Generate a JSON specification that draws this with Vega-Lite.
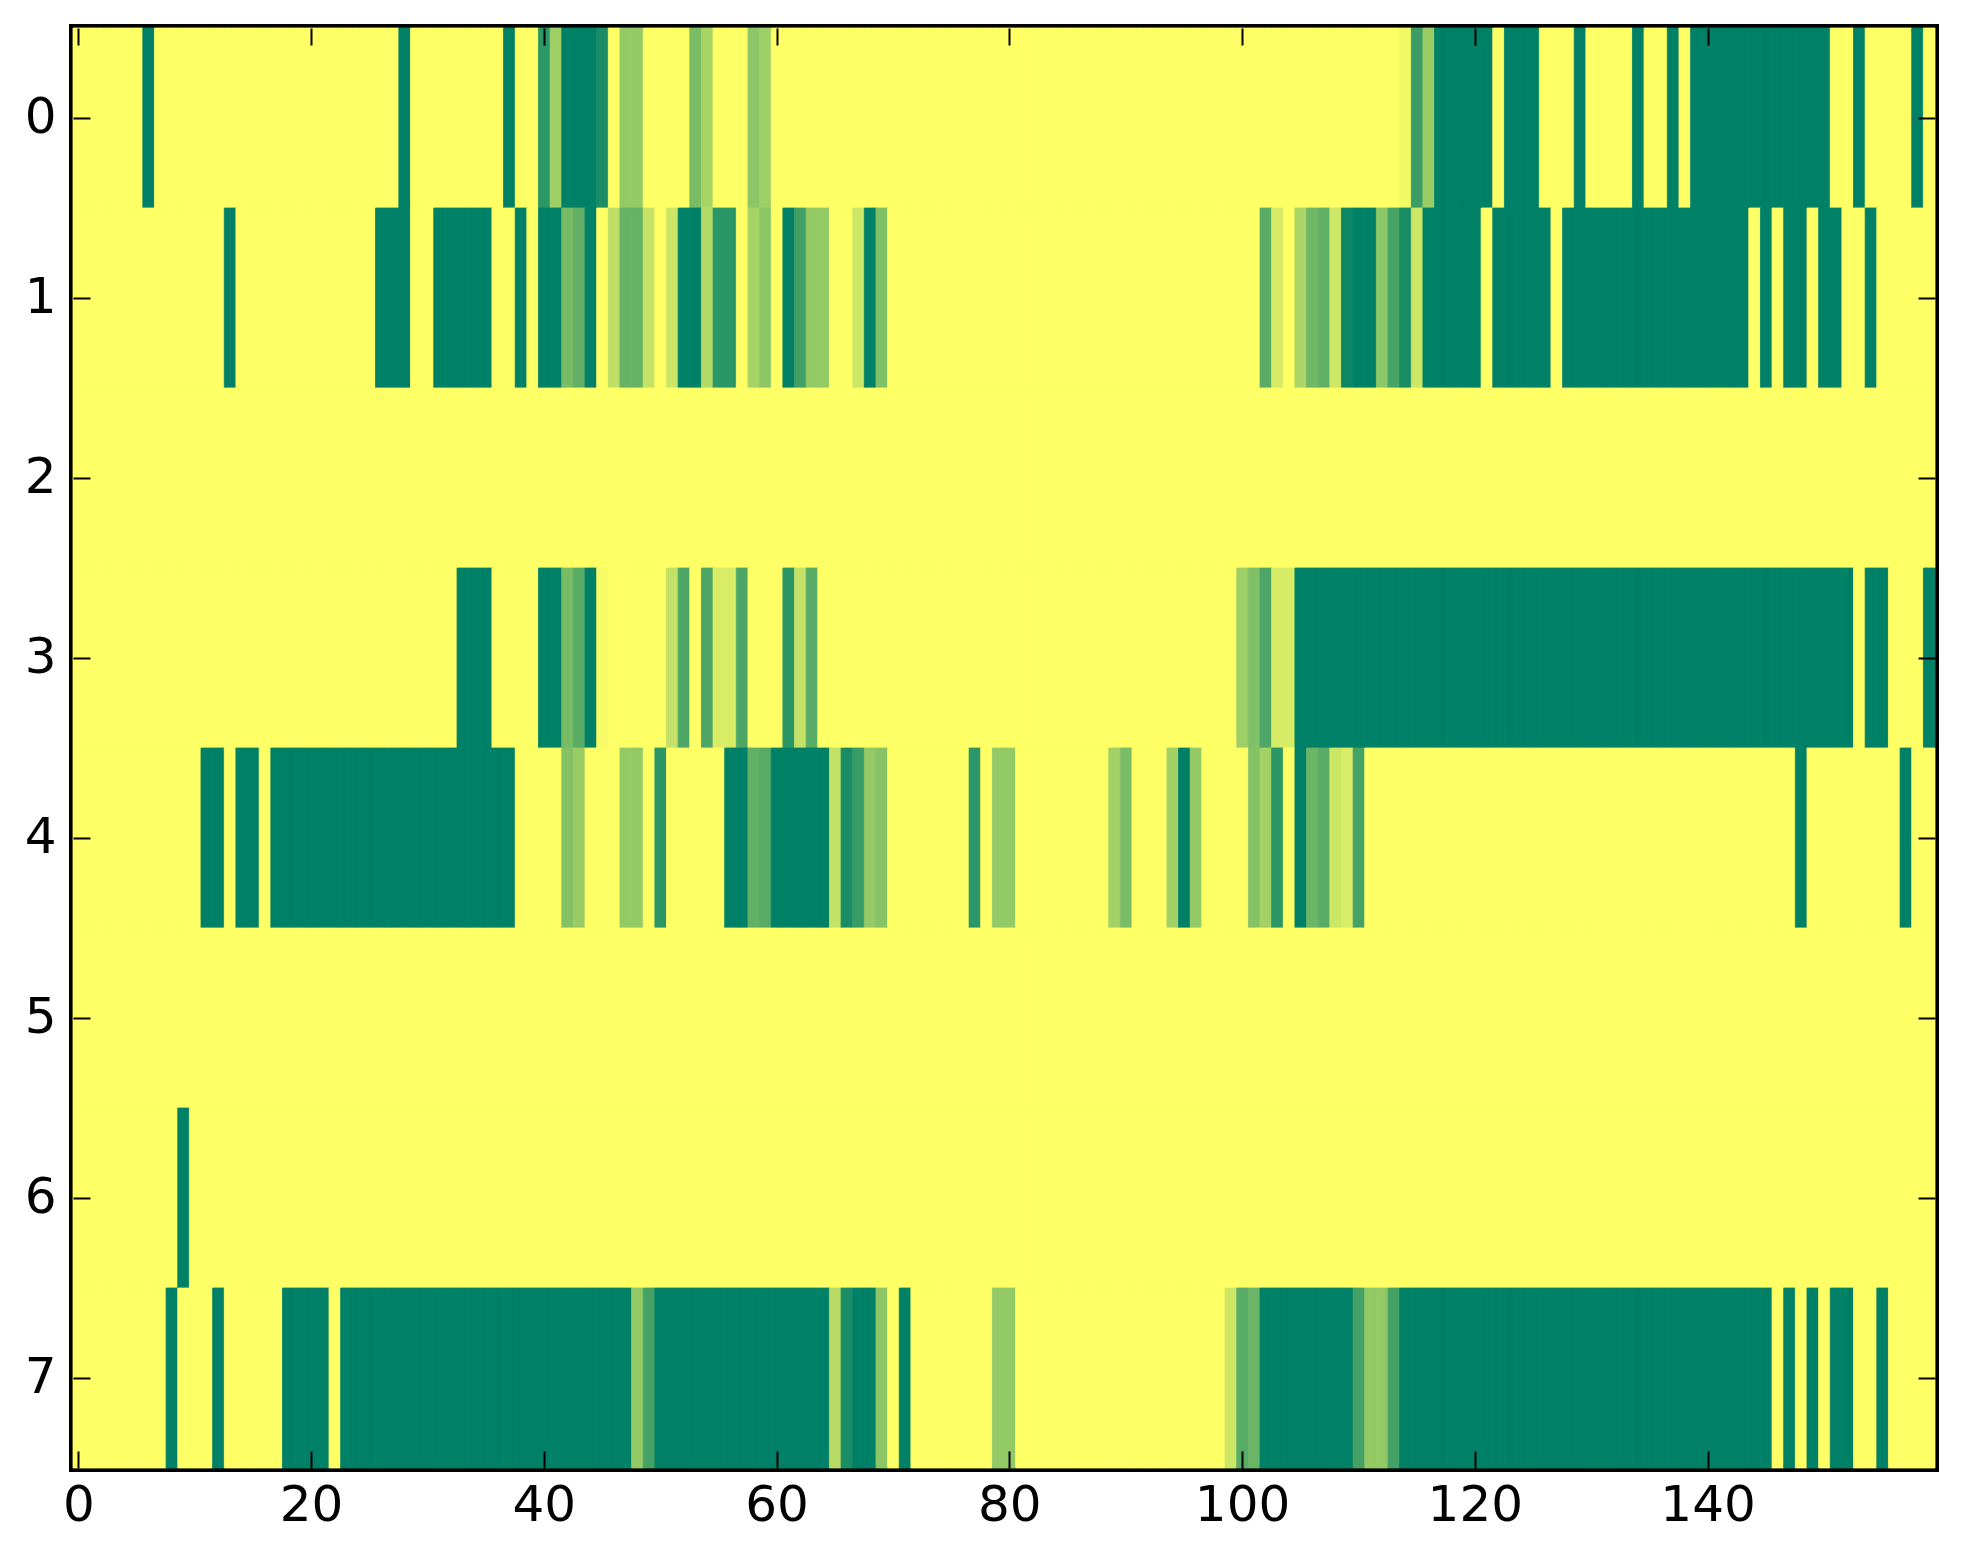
{
  "$schema": "https://vega.github.io/schema/vega-lite/v6.json",
  "width": 1862,
  "height": 1440,
  "autosize": "none",
  "padding": {"left": 73, "top": 28, "right": 28, "bottom": 96},
  "background": "white",
  "data": {
    "values": [
      {"r":0,"c":0,"v":0},{"r":0,"c":1,"v":0},{"r":0,"c":2,"v":0},{"r":0,"c":3,"v":0},{"r":0,"c":4,"v":0},{"r":0,"c":5,"v":0},{"r":0,"c":6,"v":1},{"r":0,"c":7,"v":0},{"r":0,"c":8,"v":0},{"r":0,"c":9,"v":0},
      {"r":0,"c":10,"v":0},{"r":0,"c":11,"v":0},{"r":0,"c":12,"v":0},{"r":0,"c":13,"v":0},{"r":0,"c":14,"v":0},{"r":0,"c":15,"v":0},{"r":0,"c":16,"v":0},{"r":0,"c":17,"v":0},{"r":0,"c":18,"v":0},{"r":0,"c":19,"v":0},
      {"r":0,"c":20,"v":0},{"r":0,"c":21,"v":0},{"r":0,"c":22,"v":0},{"r":0,"c":23,"v":0},{"r":0,"c":24,"v":0},{"r":0,"c":25,"v":0},{"r":0,"c":26,"v":0},{"r":0,"c":27,"v":0},{"r":0,"c":28,"v":1},{"r":0,"c":29,"v":0},
      {"r":0,"c":30,"v":0},{"r":0,"c":31,"v":0},{"r":0,"c":32,"v":0},{"r":0,"c":33,"v":0},{"r":0,"c":34,"v":0},{"r":0,"c":35,"v":0},{"r":0,"c":36,"v":0},{"r":0,"c":37,"v":1},{"r":0,"c":38,"v":0},{"r":0,"c":39,"v":0},
      {"r":0,"c":40,"v":0.83},{"r":0,"c":41,"v":0.38},{"r":0,"c":42,"v":1},{"r":0,"c":43,"v":1},{"r":0,"c":44,"v":1},{"r":0,"c":45,"v":0.9},{"r":0,"c":46,"v":0},{"r":0,"c":47,"v":0.42},{"r":0,"c":48,"v":0.42},{"r":0,"c":49,"v":0},
      {"r":0,"c":50,"v":0},{"r":0,"c":51,"v":0},{"r":0,"c":52,"v":0},{"r":0,"c":53,"v":0.53},{"r":0,"c":54,"v":0.34},{"r":0,"c":55,"v":0},{"r":0,"c":56,"v":0},{"r":0,"c":57,"v":0},{"r":0,"c":58,"v":0.45},{"r":0,"c":59,"v":0.38},
      {"r":0,"c":60,"v":0},{"r":0,"c":61,"v":0},{"r":0,"c":62,"v":0},{"r":0,"c":63,"v":0},{"r":0,"c":64,"v":0},{"r":0,"c":65,"v":0},{"r":0,"c":66,"v":0},{"r":0,"c":67,"v":0},{"r":0,"c":68,"v":0},{"r":0,"c":69,"v":0},
      {"r":0,"c":70,"v":0},{"r":0,"c":71,"v":0},{"r":0,"c":72,"v":0},{"r":0,"c":73,"v":0},{"r":0,"c":74,"v":0},{"r":0,"c":75,"v":0},{"r":0,"c":76,"v":0},{"r":0,"c":77,"v":0},{"r":0,"c":78,"v":0},{"r":0,"c":79,"v":0},
      {"r":0,"c":80,"v":0},{"r":0,"c":81,"v":0},{"r":0,"c":82,"v":0},{"r":0,"c":83,"v":0},{"r":0,"c":84,"v":0},{"r":0,"c":85,"v":0},{"r":0,"c":86,"v":0},{"r":0,"c":87,"v":0},{"r":0,"c":88,"v":0},{"r":0,"c":89,"v":0},
      {"r":0,"c":90,"v":0},{"r":0,"c":91,"v":0},{"r":0,"c":92,"v":0},{"r":0,"c":93,"v":0},{"r":0,"c":94,"v":0},{"r":0,"c":95,"v":0},{"r":0,"c":96,"v":0},{"r":0,"c":97,"v":0},{"r":0,"c":98,"v":0},{"r":0,"c":99,"v":0},
      {"r":0,"c":100,"v":0},{"r":0,"c":101,"v":0},{"r":0,"c":102,"v":0},{"r":0,"c":103,"v":0},{"r":0,"c":104,"v":0},{"r":0,"c":105,"v":0},{"r":0,"c":106,"v":0},{"r":0,"c":107,"v":0},{"r":0,"c":108,"v":0},{"r":0,"c":109,"v":0},
      {"r":0,"c":110,"v":0},{"r":0,"c":111,"v":0},{"r":0,"c":112,"v":0},{"r":0,"c":113,"v":0},{"r":0,"c":114,"v":0.05},{"r":0,"c":115,"v":0.77},{"r":0,"c":116,"v":0.4},{"r":0,"c":117,"v":1},{"r":0,"c":118,"v":1},{"r":0,"c":119,"v":1},
      {"r":0,"c":120,"v":1},{"r":0,"c":121,"v":1},{"r":0,"c":122,"v":0},{"r":0,"c":123,"v":1},{"r":0,"c":124,"v":1},{"r":0,"c":125,"v":1},{"r":0,"c":126,"v":0},{"r":0,"c":127,"v":0},{"r":0,"c":128,"v":0},{"r":0,"c":129,"v":1},
      {"r":0,"c":130,"v":0},{"r":0,"c":131,"v":0},{"r":0,"c":132,"v":0},{"r":0,"c":133,"v":0},{"r":0,"c":134,"v":1},{"r":0,"c":135,"v":0},{"r":0,"c":136,"v":0},{"r":0,"c":137,"v":1},{"r":0,"c":138,"v":0},{"r":0,"c":139,"v":1},
      {"r":0,"c":140,"v":1},{"r":0,"c":141,"v":1},{"r":0,"c":142,"v":1},{"r":0,"c":143,"v":1},{"r":0,"c":144,"v":1},{"r":0,"c":145,"v":1},{"r":0,"c":146,"v":1},{"r":0,"c":147,"v":1},{"r":0,"c":148,"v":1},{"r":0,"c":149,"v":1},
      {"r":0,"c":150,"v":1},{"r":0,"c":151,"v":0},{"r":0,"c":152,"v":0},{"r":0,"c":153,"v":1},{"r":0,"c":154,"v":0},{"r":0,"c":155,"v":0},{"r":0,"c":156,"v":0},{"r":0,"c":157,"v":0},{"r":0,"c":158,"v":1},{"r":0,"c":159,"v":0},

      {"r":1,"c":0,"v":0},{"r":1,"c":1,"v":0},{"r":1,"c":2,"v":0},{"r":1,"c":3,"v":0},{"r":1,"c":4,"v":0},{"r":1,"c":5,"v":0},{"r":1,"c":6,"v":0},{"r":1,"c":7,"v":0},{"r":1,"c":8,"v":0},{"r":1,"c":9,"v":0},
      {"r":1,"c":10,"v":0},{"r":1,"c":11,"v":0},{"r":1,"c":12,"v":0},{"r":1,"c":13,"v":1},{"r":1,"c":14,"v":0},{"r":1,"c":15,"v":0},{"r":1,"c":16,"v":0},{"r":1,"c":17,"v":0},{"r":1,"c":18,"v":0},{"r":1,"c":19,"v":0},
      {"r":1,"c":20,"v":0},{"r":1,"c":21,"v":0},{"r":1,"c":22,"v":0},{"r":1,"c":23,"v":0},{"r":1,"c":24,"v":0},{"r":1,"c":25,"v":0},{"r":1,"c":26,"v":1},{"r":1,"c":27,"v":1},{"r":1,"c":28,"v":1},{"r":1,"c":29,"v":0},
      {"r":1,"c":30,"v":0},{"r":1,"c":31,"v":1},{"r":1,"c":32,"v":1},{"r":1,"c":33,"v":1},{"r":1,"c":34,"v":1},{"r":1,"c":35,"v":1},{"r":1,"c":36,"v":0},{"r":1,"c":37,"v":0},{"r":1,"c":38,"v":1},{"r":1,"c":39,"v":0},
      {"r":1,"c":40,"v":1},{"r":1,"c":41,"v":1},{"r":1,"c":42,"v":0.53},{"r":1,"c":43,"v":0.62},{"r":1,"c":44,"v":1},{"r":1,"c":45,"v":0},{"r":1,"c":46,"v":0.25},{"r":1,"c":47,"v":0.6},{"r":1,"c":48,"v":0.6},{"r":1,"c":49,"v":0.22},
      {"r":1,"c":50,"v":0},{"r":1,"c":51,"v":0.2},{"r":1,"c":52,"v":1},{"r":1,"c":53,"v":1},{"r":1,"c":54,"v":0.3},{"r":1,"c":55,"v":0.83},{"r":1,"c":56,"v":0.83},{"r":1,"c":57,"v":0},{"r":1,"c":58,"v":0.35},{"r":1,"c":59,"v":0.45},
      {"r":1,"c":60,"v":0},{"r":1,"c":61,"v":1},{"r":1,"c":62,"v":0.75},{"r":1,"c":63,"v":0.42},{"r":1,"c":64,"v":0.42},{"r":1,"c":65,"v":0},{"r":1,"c":66,"v":0},{"r":1,"c":67,"v":0.2},{"r":1,"c":68,"v":1},{"r":1,"c":69,"v":0.5},
      {"r":1,"c":70,"v":0},{"r":1,"c":71,"v":0},{"r":1,"c":72,"v":0},{"r":1,"c":73,"v":0},{"r":1,"c":74,"v":0},{"r":1,"c":75,"v":0},{"r":1,"c":76,"v":0},{"r":1,"c":77,"v":0},{"r":1,"c":78,"v":0},{"r":1,"c":79,"v":0},
      {"r":1,"c":80,"v":0},{"r":1,"c":81,"v":0},{"r":1,"c":82,"v":0},{"r":1,"c":83,"v":0},{"r":1,"c":84,"v":0},{"r":1,"c":85,"v":0},{"r":1,"c":86,"v":0},{"r":1,"c":87,"v":0},{"r":1,"c":88,"v":0},{"r":1,"c":89,"v":0},
      {"r":1,"c":90,"v":0},{"r":1,"c":91,"v":0},{"r":1,"c":92,"v":0},{"r":1,"c":93,"v":0},{"r":1,"c":94,"v":0},{"r":1,"c":95,"v":0},{"r":1,"c":96,"v":0},{"r":1,"c":97,"v":0},{"r":1,"c":98,"v":0},{"r":1,"c":99,"v":0},
      {"r":1,"c":100,"v":0},{"r":1,"c":101,"v":0},{"r":1,"c":102,"v":0.65},{"r":1,"c":103,"v":0.16},{"r":1,"c":104,"v":0},{"r":1,"c":105,"v":0.33},{"r":1,"c":106,"v":0.56},{"r":1,"c":107,"v":0.62},{"r":1,"c":108,"v":0.2},{"r":1,"c":109,"v":0.95},
      {"r":1,"c":110,"v":1},{"r":1,"c":111,"v":1},{"r":1,"c":112,"v":0.45},{"r":1,"c":113,"v":0.72},{"r":1,"c":114,"v":0.9},{"r":1,"c":115,"v":0.2},{"r":1,"c":116,"v":1},{"r":1,"c":117,"v":1},{"r":1,"c":118,"v":1},{"r":1,"c":119,"v":1},
      {"r":1,"c":120,"v":1},{"r":1,"c":121,"v":0},{"r":1,"c":122,"v":1},{"r":1,"c":123,"v":1},{"r":1,"c":124,"v":1},{"r":1,"c":125,"v":1},{"r":1,"c":126,"v":1},{"r":1,"c":127,"v":0},{"r":1,"c":128,"v":1},{"r":1,"c":129,"v":1},
      {"r":1,"c":130,"v":1},{"r":1,"c":131,"v":1},{"r":1,"c":132,"v":1},{"r":1,"c":133,"v":1},{"r":1,"c":134,"v":1},{"r":1,"c":135,"v":1},{"r":1,"c":136,"v":1},{"r":1,"c":137,"v":1},{"r":1,"c":138,"v":1},{"r":1,"c":139,"v":1},
      {"r":1,"c":140,"v":1},{"r":1,"c":141,"v":1},{"r":1,"c":142,"v":1},{"r":1,"c":143,"v":1},{"r":1,"c":144,"v":0},{"r":1,"c":145,"v":1},{"r":1,"c":146,"v":0},{"r":1,"c":147,"v":1},{"r":1,"c":148,"v":1},{"r":1,"c":149,"v":0},
      {"r":1,"c":150,"v":1},{"r":1,"c":151,"v":1},{"r":1,"c":152,"v":0},{"r":1,"c":153,"v":0},{"r":1,"c":154,"v":1},{"r":1,"c":155,"v":0},{"r":1,"c":156,"v":0},{"r":1,"c":157,"v":0},{"r":1,"c":158,"v":0},{"r":1,"c":159,"v":0},

      {"r":2,"c":0,"v":0},{"r":2,"c":1,"v":0},{"r":2,"c":2,"v":0},{"r":2,"c":3,"v":0},{"r":2,"c":4,"v":0},{"r":2,"c":5,"v":0},{"r":2,"c":6,"v":0},{"r":2,"c":7,"v":0},{"r":2,"c":8,"v":0},{"r":2,"c":9,"v":0},
      {"r":2,"c":10,"v":0},{"r":2,"c":11,"v":0},{"r":2,"c":12,"v":0},{"r":2,"c":13,"v":0},{"r":2,"c":14,"v":0},{"r":2,"c":15,"v":0},{"r":2,"c":16,"v":0},{"r":2,"c":17,"v":0},{"r":2,"c":18,"v":0},{"r":2,"c":19,"v":0},
      {"r":2,"c":20,"v":0},{"r":2,"c":21,"v":0},{"r":2,"c":22,"v":0},{"r":2,"c":23,"v":0},{"r":2,"c":24,"v":0},{"r":2,"c":25,"v":0},{"r":2,"c":26,"v":0},{"r":2,"c":27,"v":0},{"r":2,"c":28,"v":0},{"r":2,"c":29,"v":0},
      {"r":2,"c":30,"v":0},{"r":2,"c":31,"v":0},{"r":2,"c":32,"v":0},{"r":2,"c":33,"v":0},{"r":2,"c":34,"v":0},{"r":2,"c":35,"v":0},{"r":2,"c":36,"v":0},{"r":2,"c":37,"v":0},{"r":2,"c":38,"v":0},{"r":2,"c":39,"v":0},
      {"r":2,"c":40,"v":0},{"r":2,"c":41,"v":0},{"r":2,"c":42,"v":0},{"r":2,"c":43,"v":0},{"r":2,"c":44,"v":0},{"r":2,"c":45,"v":0},{"r":2,"c":46,"v":0},{"r":2,"c":47,"v":0},{"r":2,"c":48,"v":0},{"r":2,"c":49,"v":0},
      {"r":2,"c":50,"v":0},{"r":2,"c":51,"v":0},{"r":2,"c":52,"v":0},{"r":2,"c":53,"v":0},{"r":2,"c":54,"v":0},{"r":2,"c":55,"v":0},{"r":2,"c":56,"v":0},{"r":2,"c":57,"v":0},{"r":2,"c":58,"v":0},{"r":2,"c":59,"v":0},
      {"r":2,"c":60,"v":0},{"r":2,"c":61,"v":0},{"r":2,"c":62,"v":0},{"r":2,"c":63,"v":0},{"r":2,"c":64,"v":0},{"r":2,"c":65,"v":0},{"r":2,"c":66,"v":0},{"r":2,"c":67,"v":0},{"r":2,"c":68,"v":0},{"r":2,"c":69,"v":0},
      {"r":2,"c":70,"v":0},{"r":2,"c":71,"v":0},{"r":2,"c":72,"v":0},{"r":2,"c":73,"v":0},{"r":2,"c":74,"v":0},{"r":2,"c":75,"v":0},{"r":2,"c":76,"v":0},{"r":2,"c":77,"v":0},{"r":2,"c":78,"v":0},{"r":2,"c":79,"v":0},
      {"r":2,"c":80,"v":0},{"r":2,"c":81,"v":0},{"r":2,"c":82,"v":0},{"r":2,"c":83,"v":0},{"r":2,"c":84,"v":0},{"r":2,"c":85,"v":0},{"r":2,"c":86,"v":0},{"r":2,"c":87,"v":0},{"r":2,"c":88,"v":0},{"r":2,"c":89,"v":0},
      {"r":2,"c":90,"v":0},{"r":2,"c":91,"v":0},{"r":2,"c":92,"v":0},{"r":2,"c":93,"v":0},{"r":2,"c":94,"v":0},{"r":2,"c":95,"v":0},{"r":2,"c":96,"v":0},{"r":2,"c":97,"v":0},{"r":2,"c":98,"v":0},{"r":2,"c":99,"v":0},
      {"r":2,"c":100,"v":0},{"r":2,"c":101,"v":0},{"r":2,"c":102,"v":0},{"r":2,"c":103,"v":0},{"r":2,"c":104,"v":0},{"r":2,"c":105,"v":0},{"r":2,"c":106,"v":0},{"r":2,"c":107,"v":0},{"r":2,"c":108,"v":0},{"r":2,"c":109,"v":0},
      {"r":2,"c":110,"v":0},{"r":2,"c":111,"v":0},{"r":2,"c":112,"v":0},{"r":2,"c":113,"v":0},{"r":2,"c":114,"v":0},{"r":2,"c":115,"v":0},{"r":2,"c":116,"v":0},{"r":2,"c":117,"v":0},{"r":2,"c":118,"v":0},{"r":2,"c":119,"v":0},
      {"r":2,"c":120,"v":0},{"r":2,"c":121,"v":0},{"r":2,"c":122,"v":0},{"r":2,"c":123,"v":0},{"r":2,"c":124,"v":0},{"r":2,"c":125,"v":0},{"r":2,"c":126,"v":0},{"r":2,"c":127,"v":0},{"r":2,"c":128,"v":0},{"r":2,"c":129,"v":0},
      {"r":2,"c":130,"v":0},{"r":2,"c":131,"v":0},{"r":2,"c":132,"v":0},{"r":2,"c":133,"v":0},{"r":2,"c":134,"v":0},{"r":2,"c":135,"v":0},{"r":2,"c":136,"v":0},{"r":2,"c":137,"v":0},{"r":2,"c":138,"v":0},{"r":2,"c":139,"v":0},
      {"r":2,"c":140,"v":0},{"r":2,"c":141,"v":0},{"r":2,"c":142,"v":0},{"r":2,"c":143,"v":0},{"r":2,"c":144,"v":0},{"r":2,"c":145,"v":0},{"r":2,"c":146,"v":0},{"r":2,"c":147,"v":0},{"r":2,"c":148,"v":0},{"r":2,"c":149,"v":0},
      {"r":2,"c":150,"v":0},{"r":2,"c":151,"v":0},{"r":2,"c":152,"v":0},{"r":2,"c":153,"v":0},{"r":2,"c":154,"v":0},{"r":2,"c":155,"v":0},{"r":2,"c":156,"v":0},{"r":2,"c":157,"v":0},{"r":2,"c":158,"v":0},{"r":2,"c":159,"v":0},

      {"r":3,"c":0,"v":0},{"r":3,"c":1,"v":0},{"r":3,"c":2,"v":0},{"r":3,"c":3,"v":0},{"r":3,"c":4,"v":0},{"r":3,"c":5,"v":0},{"r":3,"c":6,"v":0},{"r":3,"c":7,"v":0},{"r":3,"c":8,"v":0},{"r":3,"c":9,"v":0},
      {"r":3,"c":10,"v":0},{"r":3,"c":11,"v":0},{"r":3,"c":12,"v":0},{"r":3,"c":13,"v":0},{"r":3,"c":14,"v":0},{"r":3,"c":15,"v":0},{"r":3,"c":16,"v":0},{"r":3,"c":17,"v":0},{"r":3,"c":18,"v":0},{"r":3,"c":19,"v":0},
      {"r":3,"c":20,"v":0},{"r":3,"c":21,"v":0},{"r":3,"c":22,"v":0},{"r":3,"c":23,"v":0},{"r":3,"c":24,"v":0},{"r":3,"c":25,"v":0},{"r":3,"c":26,"v":0},{"r":3,"c":27,"v":0},{"r":3,"c":28,"v":0},{"r":3,"c":29,"v":0},
      {"r":3,"c":30,"v":0},{"r":3,"c":31,"v":0},{"r":3,"c":32,"v":0},{"r":3,"c":33,"v":1},{"r":3,"c":34,"v":1},{"r":3,"c":35,"v":1},{"r":3,"c":36,"v":0},{"r":3,"c":37,"v":0},{"r":3,"c":38,"v":0},{"r":3,"c":39,"v":0},
      {"r":3,"c":40,"v":1},{"r":3,"c":41,"v":1},{"r":3,"c":42,"v":0.53},{"r":3,"c":43,"v":0.65},{"r":3,"c":44,"v":1},{"r":3,"c":45,"v":0.04},{"r":3,"c":46,"v":0},{"r":3,"c":47,"v":0},{"r":3,"c":48,"v":0},{"r":3,"c":49,"v":0},
      {"r":3,"c":50,"v":0},{"r":3,"c":51,"v":0.24},{"r":3,"c":52,"v":0.7},{"r":3,"c":53,"v":0},{"r":3,"c":54,"v":0.7},{"r":3,"c":55,"v":0.15},{"r":3,"c":56,"v":0.15},{"r":3,"c":57,"v":0.7},{"r":3,"c":58,"v":0},{"r":3,"c":59,"v":0},
      {"r":3,"c":60,"v":0},{"r":3,"c":61,"v":0.83},{"r":3,"c":62,"v":0.24},{"r":3,"c":63,"v":0.65},{"r":3,"c":64,"v":0},{"r":3,"c":65,"v":0},{"r":3,"c":66,"v":0},{"r":3,"c":67,"v":0},{"r":3,"c":68,"v":0},{"r":3,"c":69,"v":0},
      {"r":3,"c":70,"v":0},{"r":3,"c":71,"v":0},{"r":3,"c":72,"v":0},{"r":3,"c":73,"v":0},{"r":3,"c":74,"v":0},{"r":3,"c":75,"v":0},{"r":3,"c":76,"v":0},{"r":3,"c":77,"v":0},{"r":3,"c":78,"v":0},{"r":3,"c":79,"v":0},
      {"r":3,"c":80,"v":0},{"r":3,"c":81,"v":0},{"r":3,"c":82,"v":0},{"r":3,"c":83,"v":0},{"r":3,"c":84,"v":0},{"r":3,"c":85,"v":0},{"r":3,"c":86,"v":0},{"r":3,"c":87,"v":0},{"r":3,"c":88,"v":0},{"r":3,"c":89,"v":0},
      {"r":3,"c":90,"v":0},{"r":3,"c":91,"v":0},{"r":3,"c":92,"v":0},{"r":3,"c":93,"v":0},{"r":3,"c":94,"v":0},{"r":3,"c":95,"v":0},{"r":3,"c":96,"v":0},{"r":3,"c":97,"v":0},{"r":3,"c":98,"v":0},{"r":3,"c":99,"v":0},
      {"r":3,"c":100,"v":0.38},{"r":3,"c":101,"v":0.5},{"r":3,"c":102,"v":0.7},{"r":3,"c":103,"v":0.16},{"r":3,"c":104,"v":0.16},{"r":3,"c":105,"v":1},{"r":3,"c":106,"v":1},{"r":3,"c":107,"v":1},{"r":3,"c":108,"v":1},{"r":3,"c":109,"v":1},
      {"r":3,"c":110,"v":1},{"r":3,"c":111,"v":1},{"r":3,"c":112,"v":1},{"r":3,"c":113,"v":1},{"r":3,"c":114,"v":1},{"r":3,"c":115,"v":1},{"r":3,"c":116,"v":1},{"r":3,"c":117,"v":1},{"r":3,"c":118,"v":1},{"r":3,"c":119,"v":1},
      {"r":3,"c":120,"v":1},{"r":3,"c":121,"v":1},{"r":3,"c":122,"v":1},{"r":3,"c":123,"v":1},{"r":3,"c":124,"v":1},{"r":3,"c":125,"v":1},{"r":3,"c":126,"v":1},{"r":3,"c":127,"v":1},{"r":3,"c":128,"v":1},{"r":3,"c":129,"v":1},
      {"r":3,"c":130,"v":1},{"r":3,"c":131,"v":1},{"r":3,"c":132,"v":1},{"r":3,"c":133,"v":1},{"r":3,"c":134,"v":1},{"r":3,"c":135,"v":1},{"r":3,"c":136,"v":1},{"r":3,"c":137,"v":1},{"r":3,"c":138,"v":1},{"r":3,"c":139,"v":1},
      {"r":3,"c":140,"v":1},{"r":3,"c":141,"v":1},{"r":3,"c":142,"v":1},{"r":3,"c":143,"v":1},{"r":3,"c":144,"v":1},{"r":3,"c":145,"v":1},{"r":3,"c":146,"v":1},{"r":3,"c":147,"v":1},{"r":3,"c":148,"v":1},{"r":3,"c":149,"v":1},
      {"r":3,"c":150,"v":1},{"r":3,"c":151,"v":1},{"r":3,"c":152,"v":1},{"r":3,"c":153,"v":0},{"r":3,"c":154,"v":1},{"r":3,"c":155,"v":1},{"r":3,"c":156,"v":0},{"r":3,"c":157,"v":0},{"r":3,"c":158,"v":0},{"r":3,"c":159,"v":1},

      {"r":4,"c":0,"v":0},{"r":4,"c":1,"v":0},{"r":4,"c":2,"v":0},{"r":4,"c":3,"v":0},{"r":4,"c":4,"v":0},{"r":4,"c":5,"v":0},{"r":4,"c":6,"v":0},{"r":4,"c":7,"v":0},{"r":4,"c":8,"v":0},{"r":4,"c":9,"v":0},
      {"r":4,"c":10,"v":0},{"r":4,"c":11,"v":1},{"r":4,"c":12,"v":1},{"r":4,"c":13,"v":0},{"r":4,"c":14,"v":1},{"r":4,"c":15,"v":1},{"r":4,"c":16,"v":0},{"r":4,"c":17,"v":1},{"r":4,"c":18,"v":1},{"r":4,"c":19,"v":1},
      {"r":4,"c":20,"v":1},{"r":4,"c":21,"v":1},{"r":4,"c":22,"v":1},{"r":4,"c":23,"v":1},{"r":4,"c":24,"v":1},{"r":4,"c":25,"v":1},{"r":4,"c":26,"v":1},{"r":4,"c":27,"v":1},{"r":4,"c":28,"v":1},{"r":4,"c":29,"v":1},
      {"r":4,"c":30,"v":1},{"r":4,"c":31,"v":1},{"r":4,"c":32,"v":1},{"r":4,"c":33,"v":1},{"r":4,"c":34,"v":1},{"r":4,"c":35,"v":1},{"r":4,"c":36,"v":1},{"r":4,"c":37,"v":1},{"r":4,"c":38,"v":0},{"r":4,"c":39,"v":0},
      {"r":4,"c":40,"v":0},{"r":4,"c":41,"v":0},{"r":4,"c":42,"v":0.48},{"r":4,"c":43,"v":0.4},{"r":4,"c":44,"v":0},{"r":4,"c":45,"v":0},{"r":4,"c":46,"v":0},{"r":4,"c":47,"v":0.42},{"r":4,"c":48,"v":0.42},{"r":4,"c":49,"v":0},
      {"r":4,"c":50,"v":0.83},{"r":4,"c":51,"v":0},{"r":4,"c":52,"v":0},{"r":4,"c":53,"v":0},{"r":4,"c":54,"v":0},{"r":4,"c":55,"v":0},{"r":4,"c":56,"v":1},{"r":4,"c":57,"v":1},{"r":4,"c":58,"v":0.62},{"r":4,"c":59,"v":0.66},
      {"r":4,"c":60,"v":1},{"r":4,"c":61,"v":1},{"r":4,"c":62,"v":1},{"r":4,"c":63,"v":1},{"r":4,"c":64,"v":1},{"r":4,"c":65,"v":0.24},{"r":4,"c":66,"v":0.9},{"r":4,"c":67,"v":0.78},{"r":4,"c":68,"v":0.42},{"r":4,"c":69,"v":0.47},
      {"r":4,"c":70,"v":0},{"r":4,"c":71,"v":0},{"r":4,"c":72,"v":0},{"r":4,"c":73,"v":0},{"r":4,"c":74,"v":0},{"r":4,"c":75,"v":0},{"r":4,"c":76,"v":0},{"r":4,"c":77,"v":0.83},{"r":4,"c":78,"v":0},{"r":4,"c":79,"v":0.42},
      {"r":4,"c":80,"v":0.42},{"r":4,"c":81,"v":0},{"r":4,"c":82,"v":0},{"r":4,"c":83,"v":0},{"r":4,"c":84,"v":0},{"r":4,"c":85,"v":0},{"r":4,"c":86,"v":0},{"r":4,"c":87,"v":0},{"r":4,"c":88,"v":0},{"r":4,"c":89,"v":0.36},
      {"r":4,"c":90,"v":0.52},{"r":4,"c":91,"v":0},{"r":4,"c":92,"v":0},{"r":4,"c":93,"v":0},{"r":4,"c":94,"v":0.36},{"r":4,"c":95,"v":1},{"r":4,"c":96,"v":0.42},{"r":4,"c":97,"v":0},{"r":4,"c":98,"v":0},{"r":4,"c":99,"v":0},
      {"r":4,"c":100,"v":0},{"r":4,"c":101,"v":0.48},{"r":4,"c":102,"v":0.36},{"r":4,"c":103,"v":0.83},{"r":4,"c":104,"v":0},{"r":4,"c":105,"v":1},{"r":4,"c":106,"v":0.58},{"r":4,"c":107,"v":0.65},{"r":4,"c":108,"v":0.2},{"r":4,"c":109,"v":0.15},
      {"r":4,"c":110,"v":0.73},{"r":4,"c":111,"v":0},{"r":4,"c":112,"v":0},{"r":4,"c":113,"v":0},{"r":4,"c":114,"v":0},{"r":4,"c":115,"v":0},{"r":4,"c":116,"v":0},{"r":4,"c":117,"v":0},{"r":4,"c":118,"v":0},{"r":4,"c":119,"v":0},
      {"r":4,"c":120,"v":0},{"r":4,"c":121,"v":0},{"r":4,"c":122,"v":0},{"r":4,"c":123,"v":0},{"r":4,"c":124,"v":0},{"r":4,"c":125,"v":0},{"r":4,"c":126,"v":0},{"r":4,"c":127,"v":0},{"r":4,"c":128,"v":0},{"r":4,"c":129,"v":0},
      {"r":4,"c":130,"v":0},{"r":4,"c":131,"v":0},{"r":4,"c":132,"v":0},{"r":4,"c":133,"v":0},{"r":4,"c":134,"v":0},{"r":4,"c":135,"v":0},{"r":4,"c":136,"v":0},{"r":4,"c":137,"v":0},{"r":4,"c":138,"v":0},{"r":4,"c":139,"v":0},
      {"r":4,"c":140,"v":0},{"r":4,"c":141,"v":0},{"r":4,"c":142,"v":0},{"r":4,"c":143,"v":0},{"r":4,"c":144,"v":0},{"r":4,"c":145,"v":0},{"r":4,"c":146,"v":0},{"r":4,"c":147,"v":0},{"r":4,"c":148,"v":1},{"r":4,"c":149,"v":0},
      {"r":4,"c":150,"v":0},{"r":4,"c":151,"v":0},{"r":4,"c":152,"v":0},{"r":4,"c":153,"v":0},{"r":4,"c":154,"v":0},{"r":4,"c":155,"v":0},{"r":4,"c":156,"v":0},{"r":4,"c":157,"v":1},{"r":4,"c":158,"v":0},{"r":4,"c":159,"v":0},

      {"r":5,"c":0,"v":0},{"r":5,"c":1,"v":0},{"r":5,"c":2,"v":0},{"r":5,"c":3,"v":0},{"r":5,"c":4,"v":0},{"r":5,"c":5,"v":0},{"r":5,"c":6,"v":0},{"r":5,"c":7,"v":0},{"r":5,"c":8,"v":0},{"r":5,"c":9,"v":0},
      {"r":5,"c":10,"v":0},{"r":5,"c":11,"v":0},{"r":5,"c":12,"v":0},{"r":5,"c":13,"v":0},{"r":5,"c":14,"v":0},{"r":5,"c":15,"v":0},{"r":5,"c":16,"v":0},{"r":5,"c":17,"v":0},{"r":5,"c":18,"v":0},{"r":5,"c":19,"v":0},
      {"r":5,"c":20,"v":0},{"r":5,"c":21,"v":0},{"r":5,"c":22,"v":0},{"r":5,"c":23,"v":0},{"r":5,"c":24,"v":0},{"r":5,"c":25,"v":0},{"r":5,"c":26,"v":0},{"r":5,"c":27,"v":0},{"r":5,"c":28,"v":0},{"r":5,"c":29,"v":0},
      {"r":5,"c":30,"v":0},{"r":5,"c":31,"v":0},{"r":5,"c":32,"v":0},{"r":5,"c":33,"v":0},{"r":5,"c":34,"v":0},{"r":5,"c":35,"v":0},{"r":5,"c":36,"v":0},{"r":5,"c":37,"v":0},{"r":5,"c":38,"v":0},{"r":5,"c":39,"v":0},
      {"r":5,"c":40,"v":0},{"r":5,"c":41,"v":0},{"r":5,"c":42,"v":0},{"r":5,"c":43,"v":0},{"r":5,"c":44,"v":0},{"r":5,"c":45,"v":0},{"r":5,"c":46,"v":0},{"r":5,"c":47,"v":0},{"r":5,"c":48,"v":0},{"r":5,"c":49,"v":0},
      {"r":5,"c":50,"v":0},{"r":5,"c":51,"v":0},{"r":5,"c":52,"v":0},{"r":5,"c":53,"v":0},{"r":5,"c":54,"v":0},{"r":5,"c":55,"v":0},{"r":5,"c":56,"v":0},{"r":5,"c":57,"v":0},{"r":5,"c":58,"v":0},{"r":5,"c":59,"v":0},
      {"r":5,"c":60,"v":0},{"r":5,"c":61,"v":0},{"r":5,"c":62,"v":0},{"r":5,"c":63,"v":0},{"r":5,"c":64,"v":0},{"r":5,"c":65,"v":0},{"r":5,"c":66,"v":0},{"r":5,"c":67,"v":0},{"r":5,"c":68,"v":0},{"r":5,"c":69,"v":0},
      {"r":5,"c":70,"v":0},{"r":5,"c":71,"v":0},{"r":5,"c":72,"v":0},{"r":5,"c":73,"v":0},{"r":5,"c":74,"v":0},{"r":5,"c":75,"v":0},{"r":5,"c":76,"v":0},{"r":5,"c":77,"v":0},{"r":5,"c":78,"v":0},{"r":5,"c":79,"v":0},
      {"r":5,"c":80,"v":0},{"r":5,"c":81,"v":0},{"r":5,"c":82,"v":0},{"r":5,"c":83,"v":0},{"r":5,"c":84,"v":0},{"r":5,"c":85,"v":0},{"r":5,"c":86,"v":0},{"r":5,"c":87,"v":0},{"r":5,"c":88,"v":0},{"r":5,"c":89,"v":0},
      {"r":5,"c":90,"v":0},{"r":5,"c":91,"v":0},{"r":5,"c":92,"v":0},{"r":5,"c":93,"v":0},{"r":5,"c":94,"v":0},{"r":5,"c":95,"v":0},{"r":5,"c":96,"v":0},{"r":5,"c":97,"v":0},{"r":5,"c":98,"v":0},{"r":5,"c":99,"v":0},
      {"r":5,"c":100,"v":0},{"r":5,"c":101,"v":0},{"r":5,"c":102,"v":0},{"r":5,"c":103,"v":0},{"r":5,"c":104,"v":0},{"r":5,"c":105,"v":0},{"r":5,"c":106,"v":0},{"r":5,"c":107,"v":0},{"r":5,"c":108,"v":0},{"r":5,"c":109,"v":0},
      {"r":5,"c":110,"v":0},{"r":5,"c":111,"v":0},{"r":5,"c":112,"v":0},{"r":5,"c":113,"v":0},{"r":5,"c":114,"v":0},{"r":5,"c":115,"v":0},{"r":5,"c":116,"v":0},{"r":5,"c":117,"v":0},{"r":5,"c":118,"v":0},{"r":5,"c":119,"v":0},
      {"r":5,"c":120,"v":0},{"r":5,"c":121,"v":0},{"r":5,"c":122,"v":0},{"r":5,"c":123,"v":0},{"r":5,"c":124,"v":0},{"r":5,"c":125,"v":0},{"r":5,"c":126,"v":0},{"r":5,"c":127,"v":0},{"r":5,"c":128,"v":0},{"r":5,"c":129,"v":0},
      {"r":5,"c":130,"v":0},{"r":5,"c":131,"v":0},{"r":5,"c":132,"v":0},{"r":5,"c":133,"v":0},{"r":5,"c":134,"v":0},{"r":5,"c":135,"v":0},{"r":5,"c":136,"v":0},{"r":5,"c":137,"v":0},{"r":5,"c":138,"v":0},{"r":5,"c":139,"v":0},
      {"r":5,"c":140,"v":0},{"r":5,"c":141,"v":0},{"r":5,"c":142,"v":0},{"r":5,"c":143,"v":0},{"r":5,"c":144,"v":0},{"r":5,"c":145,"v":0},{"r":5,"c":146,"v":0},{"r":5,"c":147,"v":0},{"r":5,"c":148,"v":0},{"r":5,"c":149,"v":0},
      {"r":5,"c":150,"v":0},{"r":5,"c":151,"v":0},{"r":5,"c":152,"v":0},{"r":5,"c":153,"v":0},{"r":5,"c":154,"v":0},{"r":5,"c":155,"v":0},{"r":5,"c":156,"v":0},{"r":5,"c":157,"v":0},{"r":5,"c":158,"v":0},{"r":5,"c":159,"v":0},

      {"r":6,"c":0,"v":0},{"r":6,"c":1,"v":0},{"r":6,"c":2,"v":0},{"r":6,"c":3,"v":0},{"r":6,"c":4,"v":0},{"r":6,"c":5,"v":0},{"r":6,"c":6,"v":0},{"r":6,"c":7,"v":0},{"r":6,"c":8,"v":0},{"r":6,"c":9,"v":1},
      {"r":6,"c":10,"v":0},{"r":6,"c":11,"v":0},{"r":6,"c":12,"v":0},{"r":6,"c":13,"v":0},{"r":6,"c":14,"v":0},{"r":6,"c":15,"v":0},{"r":6,"c":16,"v":0},{"r":6,"c":17,"v":0},{"r":6,"c":18,"v":0},{"r":6,"c":19,"v":0},
      {"r":6,"c":20,"v":0},{"r":6,"c":21,"v":0},{"r":6,"c":22,"v":0},{"r":6,"c":23,"v":0},{"r":6,"c":24,"v":0},{"r":6,"c":25,"v":0},{"r":6,"c":26,"v":0},{"r":6,"c":27,"v":0},{"r":6,"c":28,"v":0},{"r":6,"c":29,"v":0},
      {"r":6,"c":30,"v":0},{"r":6,"c":31,"v":0},{"r":6,"c":32,"v":0},{"r":6,"c":33,"v":0},{"r":6,"c":34,"v":0},{"r":6,"c":35,"v":0},{"r":6,"c":36,"v":0},{"r":6,"c":37,"v":0},{"r":6,"c":38,"v":0},{"r":6,"c":39,"v":0},
      {"r":6,"c":40,"v":0},{"r":6,"c":41,"v":0},{"r":6,"c":42,"v":0},{"r":6,"c":43,"v":0},{"r":6,"c":44,"v":0},{"r":6,"c":45,"v":0},{"r":6,"c":46,"v":0},{"r":6,"c":47,"v":0},{"r":6,"c":48,"v":0},{"r":6,"c":49,"v":0},
      {"r":6,"c":50,"v":0},{"r":6,"c":51,"v":0},{"r":6,"c":52,"v":0},{"r":6,"c":53,"v":0},{"r":6,"c":54,"v":0},{"r":6,"c":55,"v":0},{"r":6,"c":56,"v":0},{"r":6,"c":57,"v":0},{"r":6,"c":58,"v":0},{"r":6,"c":59,"v":0},
      {"r":6,"c":60,"v":0},{"r":6,"c":61,"v":0},{"r":6,"c":62,"v":0},{"r":6,"c":63,"v":0},{"r":6,"c":64,"v":0},{"r":6,"c":65,"v":0},{"r":6,"c":66,"v":0},{"r":6,"c":67,"v":0},{"r":6,"c":68,"v":0},{"r":6,"c":69,"v":0},
      {"r":6,"c":70,"v":0},{"r":6,"c":71,"v":0},{"r":6,"c":72,"v":0},{"r":6,"c":73,"v":0},{"r":6,"c":74,"v":0},{"r":6,"c":75,"v":0},{"r":6,"c":76,"v":0},{"r":6,"c":77,"v":0},{"r":6,"c":78,"v":0},{"r":6,"c":79,"v":0},
      {"r":6,"c":80,"v":0},{"r":6,"c":81,"v":0},{"r":6,"c":82,"v":0},{"r":6,"c":83,"v":0},{"r":6,"c":84,"v":0},{"r":6,"c":85,"v":0},{"r":6,"c":86,"v":0},{"r":6,"c":87,"v":0},{"r":6,"c":88,"v":0},{"r":6,"c":89,"v":0},
      {"r":6,"c":90,"v":0},{"r":6,"c":91,"v":0},{"r":6,"c":92,"v":0},{"r":6,"c":93,"v":0},{"r":6,"c":94,"v":0},{"r":6,"c":95,"v":0},{"r":6,"c":96,"v":0},{"r":6,"c":97,"v":0},{"r":6,"c":98,"v":0},{"r":6,"c":99,"v":0},
      {"r":6,"c":100,"v":0},{"r":6,"c":101,"v":0},{"r":6,"c":102,"v":0},{"r":6,"c":103,"v":0},{"r":6,"c":104,"v":0},{"r":6,"c":105,"v":0},{"r":6,"c":106,"v":0},{"r":6,"c":107,"v":0},{"r":6,"c":108,"v":0},{"r":6,"c":109,"v":0},
      {"r":6,"c":110,"v":0},{"r":6,"c":111,"v":0},{"r":6,"c":112,"v":0},{"r":6,"c":113,"v":0},{"r":6,"c":114,"v":0},{"r":6,"c":115,"v":0},{"r":6,"c":116,"v":0},{"r":6,"c":117,"v":0},{"r":6,"c":118,"v":0},{"r":6,"c":119,"v":0},
      {"r":6,"c":120,"v":0},{"r":6,"c":121,"v":0},{"r":6,"c":122,"v":0},{"r":6,"c":123,"v":0},{"r":6,"c":124,"v":0},{"r":6,"c":125,"v":0},{"r":6,"c":126,"v":0},{"r":6,"c":127,"v":0},{"r":6,"c":128,"v":0},{"r":6,"c":129,"v":0},
      {"r":6,"c":130,"v":0},{"r":6,"c":131,"v":0},{"r":6,"c":132,"v":0},{"r":6,"c":133,"v":0},{"r":6,"c":134,"v":0},{"r":6,"c":135,"v":0},{"r":6,"c":136,"v":0},{"r":6,"c":137,"v":0},{"r":6,"c":138,"v":0},{"r":6,"c":139,"v":0},
      {"r":6,"c":140,"v":0},{"r":6,"c":141,"v":0},{"r":6,"c":142,"v":0},{"r":6,"c":143,"v":0},{"r":6,"c":144,"v":0},{"r":6,"c":145,"v":0},{"r":6,"c":146,"v":0},{"r":6,"c":147,"v":0},{"r":6,"c":148,"v":0},{"r":6,"c":149,"v":0},
      {"r":6,"c":150,"v":0},{"r":6,"c":151,"v":0},{"r":6,"c":152,"v":0},{"r":6,"c":153,"v":0},{"r":6,"c":154,"v":0},{"r":6,"c":155,"v":0},{"r":6,"c":156,"v":0},{"r":6,"c":157,"v":0},{"r":6,"c":158,"v":0},{"r":6,"c":159,"v":0},

      {"r":7,"c":0,"v":0},{"r":7,"c":1,"v":0},{"r":7,"c":2,"v":0},{"r":7,"c":3,"v":0},{"r":7,"c":4,"v":0},{"r":7,"c":5,"v":0},{"r":7,"c":6,"v":0},{"r":7,"c":7,"v":0},{"r":7,"c":8,"v":1},{"r":7,"c":9,"v":0},
      {"r":7,"c":10,"v":0},{"r":7,"c":11,"v":0},{"r":7,"c":12,"v":1},{"r":7,"c":13,"v":0},{"r":7,"c":14,"v":0},{"r":7,"c":15,"v":0},{"r":7,"c":16,"v":0},{"r":7,"c":17,"v":0},{"r":7,"c":18,"v":1},{"r":7,"c":19,"v":1},
      {"r":7,"c":20,"v":1},{"r":7,"c":21,"v":1},{"r":7,"c":22,"v":0},{"r":7,"c":23,"v":1},{"r":7,"c":24,"v":1},{"r":7,"c":25,"v":1},{"r":7,"c":26,"v":1},{"r":7,"c":27,"v":1},{"r":7,"c":28,"v":1},{"r":7,"c":29,"v":1},
      {"r":7,"c":30,"v":1},{"r":7,"c":31,"v":1},{"r":7,"c":32,"v":1},{"r":7,"c":33,"v":1},{"r":7,"c":34,"v":1},{"r":7,"c":35,"v":1},{"r":7,"c":36,"v":1},{"r":7,"c":37,"v":1},{"r":7,"c":38,"v":1},{"r":7,"c":39,"v":1},
      {"r":7,"c":40,"v":1},{"r":7,"c":41,"v":1},{"r":7,"c":42,"v":1},{"r":7,"c":43,"v":1},{"r":7,"c":44,"v":1},{"r":7,"c":45,"v":1},{"r":7,"c":46,"v":1},{"r":7,"c":47,"v":1},{"r":7,"c":48,"v":0.42},{"r":7,"c":49,"v":0.73},
      {"r":7,"c":50,"v":1},{"r":7,"c":51,"v":1},{"r":7,"c":52,"v":1},{"r":7,"c":53,"v":1},{"r":7,"c":54,"v":1},{"r":7,"c":55,"v":1},{"r":7,"c":56,"v":1},{"r":7,"c":57,"v":1},{"r":7,"c":58,"v":1},{"r":7,"c":59,"v":1},
      {"r":7,"c":60,"v":1},{"r":7,"c":61,"v":1},{"r":7,"c":62,"v":1},{"r":7,"c":63,"v":1},{"r":7,"c":64,"v":1},{"r":7,"c":65,"v":0.28},{"r":7,"c":66,"v":0.9},{"r":7,"c":67,"v":1},{"r":7,"c":68,"v":1},{"r":7,"c":69,"v":0.45},
      {"r":7,"c":70,"v":0},{"r":7,"c":71,"v":1},{"r":7,"c":72,"v":0},{"r":7,"c":73,"v":0},{"r":7,"c":74,"v":0},{"r":7,"c":75,"v":0},{"r":7,"c":76,"v":0},{"r":7,"c":77,"v":0},{"r":7,"c":78,"v":0},{"r":7,"c":79,"v":0.42},
      {"r":7,"c":80,"v":0.42},{"r":7,"c":81,"v":0},{"r":7,"c":82,"v":0},{"r":7,"c":83,"v":0},{"r":7,"c":84,"v":0},{"r":7,"c":85,"v":0},{"r":7,"c":86,"v":0},{"r":7,"c":87,"v":0},{"r":7,"c":88,"v":0},{"r":7,"c":89,"v":0},
      {"r":7,"c":90,"v":0},{"r":7,"c":91,"v":0},{"r":7,"c":92,"v":0},{"r":7,"c":93,"v":0},{"r":7,"c":94,"v":0},{"r":7,"c":95,"v":0},{"r":7,"c":96,"v":0},{"r":7,"c":97,"v":0},{"r":7,"c":98,"v":0},{"r":7,"c":99,"v":0.2},
      {"r":7,"c":100,"v":0.65},{"r":7,"c":101,"v":0.58},{"r":7,"c":102,"v":1},{"r":7,"c":103,"v":1},{"r":7,"c":104,"v":1},{"r":7,"c":105,"v":1},{"r":7,"c":106,"v":1},{"r":7,"c":107,"v":1},{"r":7,"c":108,"v":1},{"r":7,"c":109,"v":1},
      {"r":7,"c":110,"v":0.73},{"r":7,"c":111,"v":0.42},{"r":7,"c":112,"v":0.42},{"r":7,"c":113,"v":0.73},{"r":7,"c":114,"v":1},{"r":7,"c":115,"v":1},{"r":7,"c":116,"v":1},{"r":7,"c":117,"v":1},{"r":7,"c":118,"v":1},{"r":7,"c":119,"v":1},
      {"r":7,"c":120,"v":1},{"r":7,"c":121,"v":1},{"r":7,"c":122,"v":1},{"r":7,"c":123,"v":1},{"r":7,"c":124,"v":1},{"r":7,"c":125,"v":1},{"r":7,"c":126,"v":1},{"r":7,"c":127,"v":1},{"r":7,"c":128,"v":1},{"r":7,"c":129,"v":1},
      {"r":7,"c":130,"v":1},{"r":7,"c":131,"v":1},{"r":7,"c":132,"v":1},{"r":7,"c":133,"v":1},{"r":7,"c":134,"v":1},{"r":7,"c":135,"v":1},{"r":7,"c":136,"v":1},{"r":7,"c":137,"v":1},{"r":7,"c":138,"v":1},{"r":7,"c":139,"v":1},
      {"r":7,"c":140,"v":1},{"r":7,"c":141,"v":1},{"r":7,"c":142,"v":1},{"r":7,"c":143,"v":1},{"r":7,"c":144,"v":1},{"r":7,"c":145,"v":1},{"r":7,"c":146,"v":0},{"r":7,"c":147,"v":1},{"r":7,"c":148,"v":0},{"r":7,"c":149,"v":1},
      {"r":7,"c":150,"v":0},{"r":7,"c":151,"v":1},{"r":7,"c":152,"v":1},{"r":7,"c":153,"v":0},{"r":7,"c":154,"v":0},{"r":7,"c":155,"v":1},{"r":7,"c":156,"v":0},{"r":7,"c":157,"v":0},{"r":7,"c":158,"v":0},{"r":7,"c":159,"v":0}
    ]
  },
  "layer": [
    {
      "mark": {"type": "rect", "strokeWidth": 0.8},
      "encoding": {
        "x": {
          "field": "c",
          "type": "ordinal",
          "scale": {"paddingInner": 0, "paddingOuter": 0},
          "axis": {
            "values": [0, 20, 40, 60, 80, 100, 120, 140],
            "labelAngle": 0,
            "title": null,
            "domain": false,
            "tickSize": -17,
            "labelPadding": 29
          }
        },
        "y": {
          "field": "r",
          "type": "ordinal",
          "scale": {"paddingInner": 0, "paddingOuter": 0},
          "axis": {
            "title": null,
            "domain": false,
            "tickSize": -17,
            "labelPadding": 34
          }
        },
        "color": {
          "field": "v",
          "type": "quantitative",
          "scale": {"domain": [0, 1], "range": ["#ffff66", "#008066"], "interpolate": "rgb"},
          "legend": null
        },
        "stroke": {
          "field": "v",
          "type": "quantitative",
          "scale": {"domain": [0, 1], "range": ["#ffff66", "#008066"], "interpolate": "rgb"},
          "legend": null
        }
      }
    },
    {
      "mark": {"type": "rect", "opacity": 0},
      "encoding": {
        "x": {
          "field": "c",
          "type": "ordinal",
          "axis": {
            "orient": "top",
            "values": [0, 20, 40, 60, 80, 100, 120, 140],
            "labels": false,
            "title": null,
            "domain": false,
            "tickSize": -17
          }
        },
        "y": {
          "field": "r",
          "type": "ordinal",
          "axis": {
            "orient": "right",
            "labels": false,
            "title": null,
            "domain": false,
            "tickSize": -17
          }
        }
      }
    }
  ],
  "resolve": {"axis": {"x": "independent", "y": "independent"}},
  "config": {
    "view": {"stroke": "#000000", "strokeWidth": 8},
    "axis": {
      "labelFont": "DejaVu Sans",
      "labelFontSize": 50,
      "labelColor": "#000000",
      "tickColor": "#000000",
      "tickWidth": 2,
      "grid": false
    }
  }
}
